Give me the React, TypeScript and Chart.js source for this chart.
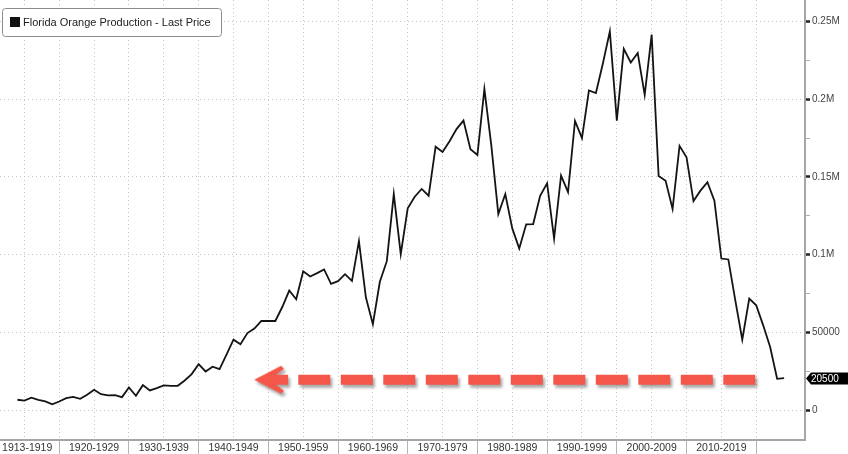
import React, { useEffect, useRef } from "react";
import { Chart, registerables } from "chart.js";

Chart.register(...registerables);

// ---- data ----
const seasons = [
  1914, 1915, 1916, 1917, 1918, 1919, 1920, 1921, 1922, 1923, 1924, 1925, 1926, 1927, 1928, 1929,
  1930, 1931, 1932, 1933, 1934, 1935, 1936, 1937, 1938, 1939, 1940, 1941, 1942, 1943, 1944, 1945,
  1946, 1947, 1948, 1949, 1950, 1951, 1952, 1953, 1954, 1955, 1956, 1957, 1958, 1959, 1960, 1961,
  1962, 1963, 1964, 1965, 1966, 1967, 1968, 1969, 1970, 1971, 1972, 1973, 1974, 1975, 1976, 1977,
  1978, 1979, 1980, 1981, 1982, 1983, 1984, 1985, 1986, 1987, 1988, 1989, 1990, 1991, 1992, 1993,
  1994, 1995, 1996, 1997, 1998, 1999, 2000, 2001, 2002, 2003, 2004, 2005, 2006, 2007, 2008, 2009,
  2010, 2011, 2012, 2013, 2014, 2015, 2016, 2017, 2018, 2019, 2020, 2021, 2022, 2023, 2024,
];

const production = [
  6600, 6100, 7900, 6600, 5500, 3700, 5500, 7600, 8500, 7200, 9800, 13000, 10200, 9400, 9600, 8300,
  14500, 9200, 16000, 12600, 14100, 15800, 15600, 15600, 19000, 23100, 29500, 24800, 27900, 26300, 35600, 45300,
  42300, 49500, 52400, 57300, 57300, 57300, 66300, 76900, 71300, 89300, 85900, 88100, 90500, 81200, 82900, 87400,
  83100, 108700, 72400, 55200, 82500, 95800, 139000, 100300, 129800, 137300, 142300, 137900, 169500, 166100, 173000, 180800,
  186300, 167900, 164200, 206600, 170000, 126100, 139000, 116900, 104000, 119500, 119700, 137900, 145900, 110400, 150900, 140300,
  186100, 175000, 205700, 204000, 223000, 243700, 186300, 232400, 223700, 229800, 202900, 241600, 150600, 147600, 129400, 170000,
  162700, 134500, 141200, 146600, 134700, 97500, 96900, 70600, 45300, 71700, 67400, 54500, 40500, 20100, 20500,
];

const seriesLabel = "Florida Orange Production - Last Price";

const decadeLabels = [
  "1913-1919", "1920-1929", "1930-1939", "1940-1949", "1950-1959", "1960-1969",
  "1970-1979", "1980-1989", "1990-1999", "2000-2009", "2010-2019",
];
const decadeLabelYears = [1915.4, 1925, 1935, 1945, 1955, 1965, 1975, 1985, 1995, 2005, 2015];
const decadeBoundaryYears = [1920, 1930, 1940, 1950, 1960, 1970, 1980, 1990, 2000, 2010, 2020];
const xGridYears = [
  1915, 1920, 1925, 1930, 1935, 1940, 1945, 1950, 1955, 1960, 1965,
  1970, 1975, 1980, 1985, 1990, 1995, 2000, 2005, 2010, 2015, 2020,
];

const yMajorTicks = [0, 50000, 100000, 150000, 200000, 250000];
const yMajorLabels = ["0", "50000", "0.1M", "0.15M", "0.2M", "0.25M"];
const yMinorTicks = [25000, 75000, 125000, 175000, 225000];

const arrowLevel = 19500;
const arrowShaftYears = [1954.3, 2020.4];
const arrowHeadYears = [1950.4];

const lastValueLabel = "20500";

const FONT = "'Liberation Sans', Arial, sans-serif";
const ARROW_RED = "#f4564a";

function makeArrowHead(): HTMLCanvasElement {
  const c = document.createElement("canvas");
  c.width = 36;
  c.height = 30;
  const g = c.getContext("2d")!;
  g.fillStyle = ARROW_RED;
  g.beginPath();
  g.moveTo(1, 15);
  g.lineTo(28, 1);
  g.lineTo(31, 4);
  g.lineTo(23, 10);
  g.lineTo(35, 10);
  g.lineTo(35, 20);
  g.lineTo(23, 20);
  g.lineTo(31, 26);
  g.lineTo(28, 29);
  g.closePath();
  g.fill();
  return c;
}

function zeroPadding(scale: any) {
  scale.paddingLeft = 0;
  scale.paddingRight = 0;
  scale.paddingTop = 0;
  scale.paddingBottom = 0;
}

export default function App() {
  const ref = useRef<HTMLCanvasElement | null>(null);

  useEffect(() => {
    document.body.style.margin = "0";
    const canvas = ref.current;
    if (!canvas) return;

    const head = makeArrowHead();

    const shadowPlugin = {
      id: "arrowShadow",
      beforeDatasetDraw(chart: any, args: any) {
        if (args.index === 1 || args.index === 2) {
          const ctx = chart.ctx;
          ctx.save();
          ctx.shadowColor = "rgba(0,0,0,0.35)";
          ctx.shadowBlur = 3;
          ctx.shadowOffsetX = 2;
          ctx.shadowOffsetY = 3;
        }
      },
      afterDatasetDraw(chart: any, args: any) {
        if (args.index === 1 || args.index === 2) {
          chart.ctx.restore();
        }
      },
    };

    const legendBoxPlugin = {
      id: "legendBox",
      afterDatasetsDraw(chart: any) {
        const ctx = chart.ctx;
        ctx.save();
        ctx.beginPath();
        (ctx as any).roundRect(2.5, 8.5, 219, 28, 3);
        ctx.fillStyle = "#ffffff";
        ctx.fill();
        ctx.strokeStyle = "#8c8c8c";
        ctx.lineWidth = 1;
        ctx.stroke();
        ctx.fillStyle = "#111111";
        ctx.fillRect(10, 17, 10, 10);
        ctx.font = `11px ${FONT}`;
        ctx.fillStyle = "#222222";
        ctx.textBaseline = "middle";
        ctx.textAlign = "left";
        ctx.fillText(chart.data.datasets[0].label, 23, 22.5);
        ctx.restore();
      },
    };

    const lastBadgePlugin = {
      id: "lastBadge",
      afterDraw(chart: any) {
        const ctx = chart.ctx;
        const ys = chart.scales.y;
        const data = chart.data.datasets[0].data;
        const v = data[data.length - 1].y;
        const y = Math.round(ys.getPixelForValue(v)) + 0.5;
        const x0 = ys.left + 1;
        ctx.save();
        ctx.fillStyle = "#000000";
        ctx.beginPath();
        ctx.moveTo(x0, y);
        ctx.lineTo(x0 + 5, y - 6);
        ctx.lineTo(chart.width, y - 6);
        ctx.lineTo(chart.width, y + 6);
        ctx.lineTo(x0 + 5, y + 6);
        ctx.closePath();
        ctx.fill();
        ctx.fillStyle = "#ffffff";
        ctx.font = `10px ${FONT}`;
        ctx.textBaseline = "middle";
        ctx.textAlign = "left";
        ctx.fillText(lastValueLabel, x0 + 5, y + 0.5);
        ctx.restore();
      },
    };

    const xTickValues = Array.from(new Set([...decadeLabelYears, ...xGridYears])).sort((a, b) => a - b);

    const chart = new Chart(canvas, {
      type: "line",
      data: {
        datasets: [
          {
            label: seriesLabel,
            data: seasons.map((s, i) => ({ x: s, y: production[i] })),
            borderColor: "#141414",
            borderWidth: 1.8,
            pointRadius: 0,
            tension: 0,
            fill: false,
          },
          {
            label: "arrow",
            data: arrowShaftYears.map((s) => ({ x: s, y: arrowLevel })),
            borderColor: ARROW_RED,
            borderWidth: 10,
            borderDash: [32, 10.5],
            borderCapStyle: "butt",
            pointRadius: 0,
            fill: false,
          },
          {
            label: "arrowHead",
            data: arrowHeadYears.map((s) => ({ x: s, y: arrowLevel })),
            showLine: false,
            pointStyle: head as any,
            pointRadius: 10,
            pointBackgroundColor: ARROW_RED,
            pointBorderWidth: 0,
          },
        ],
      },
      options: {
        responsive: false,
        animation: false,
        devicePixelRatio: 1,
        layout: { padding: 0, autoPadding: false },
        plugins: {
          legend: { display: false },
          tooltip: { enabled: false },
        },
        scales: {
          x: {
            type: "linear",
            position: "bottom",
            min: 1911.5,
            max: 2027,
            afterBuildTicks: (scale: any) => {
              scale.ticks = xTickValues.map((v) => ({ value: v }));
            },
            afterFit: (scale: any) => {
              scale.height = 14;
              zeroPadding(scale);
            },
            ticks: {
              autoSkip: false,
              maxRotation: 0,
              minRotation: 0,
              padding: -12,
              color: "#333333",
              font: { family: FONT, size: 10.5 },
              callback: (value: any) => {
                const idx = decadeLabelYears.indexOf(Number(value));
                return idx >= 0 ? decadeLabels[idx] : "";
              },
            },
            grid: {
              color: (ctx: any) =>
                ctx.tick && xGridYears.includes(ctx.tick.value) ? "#c4c4c4" : "rgba(0,0,0,0)",
              lineWidth: 1,
              drawTicks: true,
              tickLength: 14,
              tickWidth: 1,
              tickColor: (ctx: any) =>
                ctx.tick && decadeBoundaryYears.includes(ctx.tick.value) ? "#b4b4b4" : "rgba(0,0,0,0)",
            },
            border: { display: true, color: "#a6a6a6", width: 2, dash: [1, 3] },
          },
          y: {
            type: "linear",
            position: "right",
            min: -19300,
            max: 263900,
            afterBuildTicks: (scale: any) => {
              scale.ticks = [...yMajorTicks, ...yMinorTicks].sort((a, b) => a - b).map((v) => ({ value: v }));
            },
            afterFit: (scale: any) => {
              scale.width = 43;
              zeroPadding(scale);
            },
            ticks: {
              padding: 2,
              color: "#444444",
              font: { family: FONT, size: 10 },
              callback: (value: any) => {
                const idx = yMajorTicks.indexOf(Number(value));
                return idx >= 0 ? yMajorLabels[idx] : "";
              },
            },
            grid: {
              color: (ctx: any) =>
                ctx.tick && yMajorTicks.includes(ctx.tick.value) ? "#c4c4c4" : "rgba(0,0,0,0)",
              lineWidth: 1,
              drawTicks: true,
              tickLength: 5,
              tickWidth: (ctx: any) => (ctx.tick && yMajorTicks.includes(ctx.tick.value) ? 2.5 : 1),
              tickColor: (ctx: any) =>
                ctx.tick && yMajorTicks.includes(ctx.tick.value) ? "#222222" : "#b0b0b0",
            },
            border: { display: true, color: "#a6a6a6", width: 2, dash: [1, 3] },
          },
        },
      },
      plugins: [shadowPlugin, legendBoxPlugin, lastBadgePlugin],
    } as any);

    return () => {
      chart.destroy();
    };
  }, []);

  return (
    <div style={{ width: 848, height: 454, position: "relative", background: "#ffffff" }}>
      <canvas ref={ref} width={848} height={454} style={{ display: "block", width: 848, height: 454 }} />
    </div>
  );
}
